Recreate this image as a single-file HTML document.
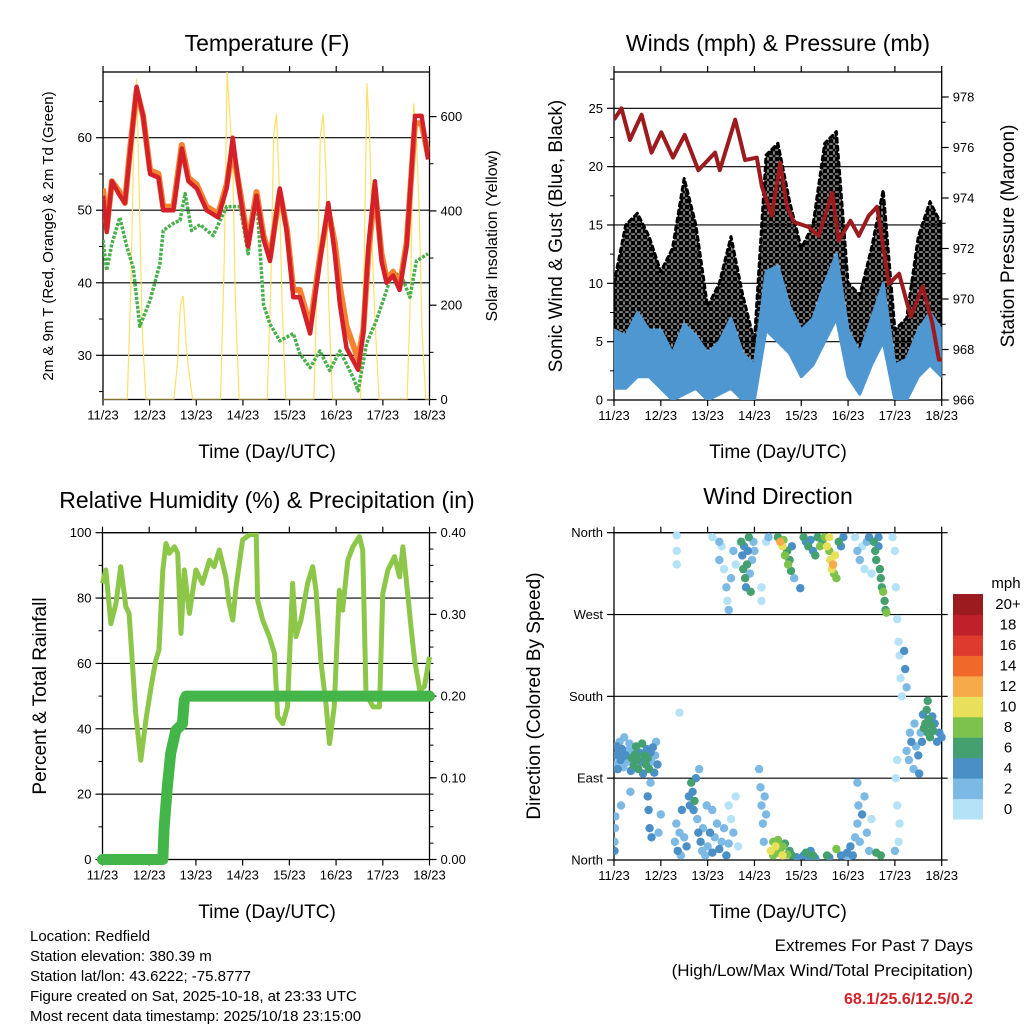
<!DOCTYPE html>
<html><head><meta charset="utf-8"><title>Redfield Station Meteogram</title>
<style>
html,body{margin:0;padding:0;background:#fff;}
svg{display:block;font-family:"Liberation Sans",Arial,sans-serif;}
.t{font-size:23px;fill:#000;text-anchor:middle;}
.al{font-size:19px;fill:#000;text-anchor:middle;}
.tk{font-size:13px;fill:#000;}
.info{font-size:15px;fill:#000;}
</style></head>
<body>
<svg id="chart" width="1024" height="1024" viewBox="0 0 1024 1024" xmlns="http://www.w3.org/2000/svg">
<defs>
<pattern id="dotpat" width="6" height="6" patternUnits="userSpaceOnUse">
<circle cx="3" cy="3" r="2.6" fill="#000"/>
<circle cx="0" cy="0" r="1.6" fill="#000"/>
<circle cx="6" cy="6" r="1.6" fill="#000"/>
<circle cx="0" cy="6" r="1.6" fill="#000"/>
<circle cx="6" cy="0" r="1.6" fill="#000"/>
</pattern>
</defs>
<rect width="1024" height="1024" fill="#fff"/>
<text class="t" x="267" y="51">Temperature (F)</text>
<text class="t" x="778" y="51">Winds (mph) &amp; Pressure (mb)</text>
<text class="t" x="267" y="508">Relative Humidity (%) &amp; Precipitation (in)</text>
<text class="t" x="778" y="504">Wind Direction</text>

<text class="al" x="267" y="458">Time (Day/UTC)</text>
<text class="al" x="778" y="458">Time (Day/UTC)</text>
<text class="al" x="267" y="918">Time (Day/UTC)</text>
<text class="al" x="778" y="918">Time (Day/UTC)</text>

<text class="al" style="font-size:15px" transform="translate(53,236) rotate(-90)">2m &amp; 9m T (Red, Orange) &amp; 2m Td (Green)</text>
<text class="al" style="font-size:16px" transform="translate(497,236) rotate(-90)">Solar Insolation (Yellow)</text>
<text class="al" transform="translate(562,236) rotate(-90)">Sonic Wind &amp; Gust (Blue, Black)</text>
<text class="al" transform="translate(1014,236) rotate(-90)">Station Pressure (Maroon)</text>
<text class="al" transform="translate(46,696) rotate(-90)">Percent &amp; Total Rainfall</text>
<text class="al" transform="translate(540,696) rotate(-90)">Direction (Colored By Speed)</text>

<g>
<text class="info" x="30" y="941">Location: Redfield</text>
<text class="info" x="30" y="961">Station elevation: 380.39 m</text>
<text class="info" x="30" y="981">Station lat/lon: 43.6222; -75.8777</text>
<text class="info" x="30" y="1001">Figure created on Sat, 2025-10-18, at 23:33 UTC</text>
<text class="info" x="30" y="1021">Most recent data timestamp: 2025/10/18 23:15:00</text>
</g>
<g>
<text x="973" y="951" style="font-size:17px;text-anchor:end">Extremes For Past 7 Days</text>
<text x="973" y="976" style="font-size:17px;text-anchor:end">(High/Low/Max Wind/Total Precipitation)</text>
<text x="973" y="1004" style="font-size:16px;font-weight:bold;fill:#d0232a;text-anchor:end">68.1/25.6/12.5/0.2</text>
</g>
<text x="1006" y="588" style="font-size:15px;text-anchor:middle">mph</text>
</svg>
<script>
// ---------- data ----------
const dayLabels = ["11/23","12/23","13/23","14/23","15/23","16/23","17/23","18/23"];
const tempT = [0,0.08,0.19,0.36,0.47,0.58,0.72,0.86,1.01,1.19,1.29,1.51,1.69,1.83,2.01,2.22,2.47,2.65,2.78,2.94,3.11,3.29,3.44,3.58,3.79,3.94,4.08,4.22,4.44,4.65,4.83,4.97,5.08,5.22,5.47,5.58,5.69,5.83,5.97,6.08,6.22,6.36,6.51,6.69,6.83,6.97];
const tempRed = [52,47,54,52,51,58,67,63,55,54.5,50,50,58.5,54,53,50,49,53,60,52,45,52,46,43,53,47,38,38,33,43,51,44,37,31,28,33,45,54,43,40,41,39,45,63,63,57];
const tempOrange = [53,47.5,54,52.5,51,58.5,66.5,63,55.5,55,50.5,50.5,59,54.5,53.5,50.5,49.5,53.5,58.5,52.5,45.5,52.5,46.5,43.5,52.5,47.5,39,39,34,43.5,50,45.5,39.5,34,29.5,33.5,44,53,44,40.5,41.5,39.5,45.5,62,62,57.5];
const dewT = [0,0.08,0.19,0.36,0.51,0.65,0.79,1.01,1.22,1.29,1.51,1.65,1.76,1.9,2.08,2.36,2.65,2.94,3.11,3.29,3.44,3.58,3.79,4.08,4.22,4.44,4.65,4.86,5.08,5.36,5.47,5.65,5.86,6.01,6.22,6.44,6.58,6.72,6.97];
const dewVals = [45.9,41.7,45.4,49,45,42,34,37.6,42.6,47.2,48.2,48.6,52.3,47.2,48,46.5,50.5,50.5,44,52.3,37,34.3,32,33,30.2,28.3,30.6,27.9,30.6,27,25.1,31.6,34.8,37.6,41.7,40.3,38,43,44];
const solarT = [0,0.52,0.6,0.66,0.72,0.78,0.84,0.92, 1.52,1.6,1.66,1.72,1.78,1.84,1.92, 2.52,2.6,2.66,2.72,2.78,2.84,2.92, 3.52,3.6,3.66,3.72,3.78,3.84,3.92, 4.52,4.6,4.66,4.72,4.78,4.84,4.92, 5.52,5.6,5.66,5.72,5.78,5.84,5.92, 6.52,6.6,6.66,6.72,6.78,6.84,6.92,7];
const solarVals = [0,0,250,550,680,420,150,0, 0,80,200,220,120,60,0, 0,300,695,600,500,200,0, 0,250,560,606,450,200,0, 0,280,560,606,480,200,0, 0,300,671,550,300,150,0, 0,250,628,560,400,150,0,0];
const windT = [0,0.25,0.5,0.75,1,1.25,1.5,1.75,2,2.25,2.5,2.75,3,3.25,3.5,3.75,4,4.25,4.5,4.75,5,5.25,5.5,5.75,6,6.25,6.5,6.75,7];
const windLo = [1,1,2,2,1,0,0.5,1,0,0.5,1,0,0,6,5,4,2,3,5,7,2,0.5,3,5,0,0,2,3,2];
const windHi = [6,5.5,7.5,6,6,4,6.5,5.5,4,5,7,4,3,11,11.5,8,6,7,10,12.5,6,4,7,10,3,3.5,6,7.5,6];
const gustLo = [3,5,5,4,3,3,4,4,1,2,3,2,0.5,10,9,6,3,5,9,11,3,2,4,9,1,1,5,6,5];
const gustHi = [10,15,16,14,11,13,19,15,8,10,14,9,5,21,22,17,13,15,22,23,10,9,13,18,6,7,14,17,15];
const presT = [0,0.16,0.34,0.59,0.8,1.01,1.26,1.51,1.8,2.16,2.26,2.59,2.8,3.05,3.16,3.37,3.55,3.69,3.84,4.16,4.37,4.66,4.8,5.05,5.23,5.44,5.62,5.87,6.09,6.34,6.59,6.8,6.94,7];
const presVals = [977.1,977.55,976.3,977.3,975.8,976.6,975.6,976.5,975.1,975.8,975.1,977.1,975.5,975.6,974.45,973.3,975.4,973.7,973.05,972.85,972.5,974.2,972.3,973.1,972.5,973.3,973.65,970.6,971.0,969.3,970.5,969.05,967.6,967.6];
const rhT = [0,0.07,0.18,0.29,0.39,0.5,0.57,0.64,0.71,0.82,0.93,1.04,1.14,1.21,1.29,1.36,1.43,1.54,1.61,1.68,1.75,1.86,2.0,2.14,2.29,2.39,2.5,2.64,2.71,2.79,2.86,3.0,3.14,3.29,3.32,3.43,3.57,3.68,3.75,3.86,3.96,4.07,4.14,4.25,4.39,4.5,4.57,4.68,4.79,4.86,4.96,5.07,5.14,5.25,5.36,5.5,5.57,5.64,5.79,5.93,6.0,6.11,6.25,6.36,6.43,6.54,6.61,6.68,6.79,6.89,7.0];
const rhVals = [84.5,88.6,72.2,78.4,89.6,77.3,75.3,60,44.7,30.4,42.7,52.9,61,64.1,88.6,96.7,93.7,95.7,93.7,69.2,88.6,75.3,88.6,84.5,91.6,89.6,94.7,86.5,78.4,73.3,83.5,97.8,99.3,99.8,79.4,73.3,68.2,63.1,43.7,41.6,46.7,84.5,68.2,73.3,84.5,89.6,82.4,60,46.7,35.5,46.7,82.4,76.3,91.6,95.7,98.8,94.7,50.8,46.7,46.7,81.4,88.6,92.7,86.5,95.7,80.4,70.2,61,51.8,52.9,62];
const precipT = [0,1.29,1.32,1.39,1.46,1.57,1.71,1.75,1.79,7.0];
const precipVals = [0,0,0.04,0.09,0.13,0.158,0.166,0.195,0.2,0.2];
const dirT = [0.02,0.04,0.06,0.08,0.1,0.12,0.14,0.17,0.2,0.22,0.25,0.28,0.3,0.33,0.36,0.38,0.4,0.42,0.45,0.47,0.5,0.52,0.55,0.58,0.6,0.62,0.65,0.68,0.7,0.72,0.75,0.78,0.8,0.83,0.86,0.88,0.9,0.93,
 0.01,0.02,0.03,0.01,0.15,0.35,0.72,0.74,0.76,0.78,0.8,0.95,1.0,
 1.3,1.33,1.36,1.4,1.43,1.45,1.5,1.55,1.6,1.62,1.65,1.68,1.7,1.72,1.75,1.78,1.8,1.82,1.85,1.88,1.9,1.95,1.4,
 2.0,2.05,2.1,2.15,2.2,2.25,2.3,2.35,2.4,2.45,1.98,2.1,
 2.45,2.5,2.55,2.6,2.65,
 2.1,2.25,2.25,2.3,2.35,2.4,2.42,2.45,2.5,2.55,2.6,2.7,1.34,1.34,1.34,
 2.72,2.74,2.76,2.78,2.8,2.82,2.84,2.86,2.88,2.9,2.92,2.95,2.98,3.0,
 3.1,3.13,3.15,3.18,3.2,3.22,3.25,3.15,3.15,3.25,3.3,
 3.35,3.4,3.45,3.5,3.55,3.6,3.65,3.7,3.75,3.4,3.5,3.6,3.8,3.9,
 3.5,3.55,3.6,3.62,3.65,3.7,3.72,3.75,3.78,3.8,3.85,
 4.05,4.1,4.15,4.2,4.25,4.3,4.05,4.1,4.15,4.2,4.25,4.3,4.35,4.4,4.45,3.98,
 4.5,4.55,4.6,4.62,4.65,4.68,4.7,4.72,4.75,4.8,4.85,4.9,4.6,4.55,4.6,4.75,4.85,
 4.98,5.0,5.05,5.1,5.15,5.2,5.22,5.25,5.3,5.35,5.4,5.45,5.5,5.2,
 5.15,5.2,5.25,5.3,5.35,5.4,5.45,5.5,
 5.55,5.58,5.6,5.65,5.68,5.7,5.72,5.75,5.78,5.8,5.82,5.65,5.6,5.7,
 5.95,6.0,6.02,6.05,6.08,6.1,6.12,6.15,6.05,6.1,6.08,6.0,6.02,6.05,6.2,6.22,6.25,
 6.25,6.3,6.32,6.35,6.4,6.42,6.45,6.5,6.52,6.55,6.58,6.6,6.62,6.65,6.68,6.7,6.72,6.75,6.78,6.8,6.82,6.85,6.9,6.95,7.0,6.7];
const dirDeg = [115,105,125,100,118,130,110,122,102,135,115,108,120,128,98,112,120,104,116,125,110,100,118,108,128,95,115,105,122,112,100,118,108,124,96,115,130,105,
 20,35,48,10,60,75,70,55,35,85,25,30,50,
 20,40,10,30,5,55,25,15,70,60,85,75,55,65,90,45,30,100,20,10,35,5,162,
 15,30,8,25,40,12,20,35,5,18,60,55,
 60,45,30,70,15,
 355,350,330,345,320,300,285,275,310,340,325,350,357,340,325,
 350,335,320,345,310,300,325,340,355,315,295,330,350,340,
 100,80,60,40,20,70,50,300,285,350,355,
 10,5,15,8,12,5,18,6,10,20,22,15,5,3,
 355,350,345,352,335,340,325,330,318,345,310,
 5,8,3,10,5,2,355,350,345,352,340,335,355,345,350,299,
 355,345,340,330,320,325,315,335,310,350,345,355,355,5,3,12,5,
 8,3,15,5,25,40,60,20,50,70,30,10,45,85,
 355,340,330,345,320,350,355,315,
 350,340,330,345,320,310,300,295,285,275,272,355,8,5,
 355,340,300,265,240,225,200,180,60,40,20,10,90,110,230,210,190,
 120,110,140,130,100,150,125,115,95,140,130,160,145,150,165,140,155,135,148,158,142,150,130,140,135,175];
const dirSpd = [4,3,4,4,5,3,4,4,3,2,4,3,2,3,4,6,3,6,7,6,6,7,5,4,6,4,6,7,4,6,6,4,3,4,5,3,2,4,
 2,3,2,4,2,3,4,4,5,3,4,2,3,
 2,3,4,3,2,4,3,4,4,5,6,4,5,6,4,3,4,2,4,3,2,3,1,
 3,4,4,3,2,4,3,2,4,3,3,2,
 1,1,2,1,1,
 1,2,2,1,1,2,1,2,2,2,1,1,1,1,1,
 6,4,6,4,6,4,6,4,6,3,6,3,2,2,
 2,2,3,2,2,2,2,1,1,1,2,
 10,8,10,9,8,10,7,8,6,9,8,9,6,4,
 7,12,10,8,9,7,8,6,7,4,3,
 4,6,5,4,6,4,6,4,6,4,4,6,6,8,6,4,
 8,10,8,10,10,12,9,10,8,6,4,4,10,6,4,8,4,
 4,3,4,4,3,2,3,2,4,2,3,2,1,2,
 1,2,2,1,1,2,4,1,
 6,7,6,4,6,7,6,8,7,7,8,4,7,6,
 1,1,1,1,1,1,1,1,1,1,1,2,1,1,4,4,3,
 2,3,2,4,3,2,3,4,4,3,4,4,6,6,6,6,7,6,6,5,6,5,4,4,4,6];
const speedBinLabels = ["0","2","4","6","8","10","12","14","16","18","20+"];
const speedColors = ["#b5e2f7","#7cb9e4","#4a8fc6","#44a06e","#7cc24c","#e8e05a","#f7aa48","#f0682a","#de3a2e","#c0202a","#9b1b1e"];

// ---------- helpers ----------
const NS = "http://www.w3.org/2000/svg";
const svg = document.getElementById("chart");
function mk(tag, attrs, parent){
  const e = document.createElementNS(NS, tag);
  for (const k in attrs) e.setAttribute(k, attrs[k]);
  (parent || svg).appendChild(e);
  return e;
}
function lin(d0,d1,r0,r1){ return v => r0 + (v-d0)/(d1-d0)*(r1-r0); }
function pathOf(ts, vs, sx, sy){
  let s = "";
  const n = Math.min(ts.length, vs.length);
  for (let i=0;i<n;i++) s += (i?"L":"M") + sx(ts[i]).toFixed(1) + "," + sy(vs[i]).toFixed(1);
  return s;
}
function frame(prefix, x0,x1,y0,y1, sx){
  const g = mk("g", {});
  
  
  const box = mk("rect", {x:x0,y:y0,width:x1-x0,height:y1-y0,fill:"none",stroke:"#000","stroke-width":1.3}, g);
  
  
  for (let i=0;i<dayLabels.length;i++){
    const x = sx(i);
    mk("line",{x1:x,x2:x,y1:y1,y2:y1+6,stroke:"#000","stroke-width":1.2},g);
    mk("line",{x1:x,x2:x,y1:y0,y2:y0-6,stroke:"#000","stroke-width":1.2},g);
    const t = mk("text",{x:x,y:y1+20,"text-anchor":"middle","class":"tk"},g);
    t.textContent = dayLabels[i];
    
    
  }
  return g;
}
function yAxis(prefix, side, x0,x1, sy, majors, labels, minors, grid){
  const g = mk("g", {});
  
  
  const xe = side === "left" ? x0 : x1;
  const dir = side === "left" ? -1 : 1;
  minors.forEach(v => mk("line",{x1:xe,x2:xe+dir*4,y1:sy(v),y2:sy(v),stroke:"#000","stroke-width":1},g));
  majors.forEach((v,i) => {
    const y = sy(v);
    mk("line",{x1:xe,x2:xe+dir*7,y1:y,y2:y,stroke:"#000","stroke-width":1.2},g);
    if (grid) {
      const gl = mk("line",{x1:x0,x2:x1,y1:y,y2:y,stroke:"#000","stroke-width":1.1},g);
      
      
    }
    const t = mk("text",{x:xe+dir*11,y:y+4.5,"text-anchor":side==="left"?"end":"start","class":"tk"},g);
    t.textContent = labels[i];
    
    
  });
}
function range(a,b,s){ const r=[]; for(let v=a; v<=b+1e-9; v+=s) r.push(+v.toFixed(4)); return r; }

// ---------- Panel 1: temperature ----------
(function(){
  const x0=103,x1=429.5,y0=72,y1=399.5;
  const sx = lin(0,7,x0,x1);
  const sy = lin(30,60,355.3,137.7);
  const ss = lin(0,600,399.5,116.6);
  frame("temperature", x0,x1,y0,y1, sx);
  yAxis("temperature","left",x0,x1,sy,[30,40,50,60],["30","40","50","60"],[25,35,45,55,65],true);
  yAxis("solar","right",x0,x1,ss,[0,200,400,600],["0","200","400","600"],[100,300,500],false);
  const clip = mk("clipPath",{id:"c1"}); mk("rect",{x:x0,y:y0,width:x1-x0,height:y1-y0},clip);
  const g = mk("g",{"clip-path":"url(#c1)"});
  
  
  const sol = mk("path",{d:pathOf(solarT,solarVals,sx,ss),fill:"none",stroke:"#ffe066","stroke-width":1.2},g);
  
  
  const dew = mk("path",{d:pathOf(dewT,dewVals,sx,sy),fill:"none",stroke:"#47b04a","stroke-width":3.5,"stroke-dasharray":"3 1.5","stroke-linejoin":"round"},g);
  
  
  const or = mk("path",{d:pathOf(tempT,tempOrange,sx,sy),fill:"none",stroke:"#f58231","stroke-width":6,"stroke-linejoin":"round"},g);
  
  
  const rd = mk("path",{d:pathOf(tempT,tempRed,sx,sy),fill:"none",stroke:"#d42028","stroke-width":4.5,"stroke-linejoin":"round"},g);
  
  
})();

// ---------- Panel 2: winds & pressure ----------
(function(){
  const x0=614,x1=941.7,y0=72,y1=400;
  const sx = lin(0,7,x0,x1);
  const sy = lin(0,25,400,108.3);
  const sp = lin(966,978,400,97);
  frame("winds", x0,x1,y0,y1, sx);
  yAxis("wind","left",x0,x1,sy,[0,5,10,15,20,25],["0","5","10","15","20","25"],[2.5,7.5,12.5,17.5,22.5,27.5],true);
  yAxis("pressure","right",x0,x1,sp,[966,968,970,972,974,976,978],["966","968","970","972","974","976","978"],range(967,977,2),false);
  const clip = mk("clipPath",{id:"c2"}); mk("rect",{x:x0,y:y0,width:x1-x0,height:y1-y0},clip);
  const g = mk("g",{"clip-path":"url(#c2)"});
  
  
  function band(lo,hi){
    let s = pathOf(windT,hi,sx,sy);
    for (let i=windT.length-1;i>=0;i--) s += "L"+sx(windT[i]).toFixed(1)+","+sy(lo[i]).toFixed(1);
    return s+"Z";
  }
  const gb = mk("path",{d:band(gustLo,gustHi),fill:"url(#dotpat)",stroke:"#000","stroke-width":3,"stroke-dasharray":"4 4","stroke-linecap":"round","stroke-linejoin":"round"},g);
  
  
  const wb = mk("path",{d:band(windLo,windHi),fill:"#4f97d0",stroke:"#4f97d0","stroke-width":3,"stroke-linejoin":"round"},g);
  
  
  const pr = mk("path",{d:pathOf(presT,presVals,sx,sp),fill:"none",stroke:"#9b1b1e","stroke-width":4,"stroke-linejoin":"round"},g);
  
  
})();

// ---------- Panel 3: RH & precip ----------
(function(){
  const x0=102.5,x1=429.5,y0=532.7,y1=859.5;
  const sx = lin(0,7,x0,x1);
  const sy = lin(0,100,859.5,532.7);
  const sr = lin(0,0.4,859.5,532.7);
  frame("humidity", x0,x1,y0,y1, sx);
  yAxis("humidity","left",x0,x1,sy,[0,20,40,60,80,100],["0","20","40","60","80","100"],[10,30,50,70,90],true);
  yAxis("precip","right",x0,x1,sr,[0,0.1,0.2,0.3,0.4],["0.00","0.10","0.20","0.30","0.40"],range(0.02,0.38,0.02),false);
  const clip = mk("clipPath",{id:"c3"}); mk("rect",{x:x0-8,y:y0,width:x1-x0+16,height:y1-y0+8},clip);
  const g = mk("g",{"clip-path":"url(#c3)"});
  
  
  const rh = mk("path",{d:pathOf(rhT,rhVals,sx,sy),fill:"none",stroke:"#8dc74a","stroke-width":5,"stroke-linejoin":"round"},g);
  
  
  const pc = mk("path",{d:pathOf(precipT,precipVals,sx,sr),fill:"none",stroke:"#44b549","stroke-width":11,"stroke-linejoin":"round","stroke-linecap":"round"},g);
  
  
})();

// ---------- Panel 4: wind direction ----------
(function(){
  const x0=614,x1=941.7,y0=532.7,y1=860;
  const sx = lin(0,7,x0,x1);
  const sy = lin(0,360,860,532.7);
  frame("direction", x0,x1,y0,y1, sx);
  yAxis("direction","left",x0,x1,sy,[0,90,180,270,360],["North","East","South","West","North"],[],true);
  const rg = mk("g",{});
  [0,90,180,270,360].forEach(v=>mk("line",{x1:x1,x2:x1+6,y1:sy(v),y2:sy(v),stroke:"#000","stroke-width":1.2},rg));
  const clip = mk("clipPath",{id:"c4"}); mk("rect",{x:x0,y:y0-4,width:x1-x0+4,height:y1-y0+4},clip);
  const g = mk("g",{"clip-path":"url(#c4)"});
  
  
  const n = Math.min(dirT.length, dirDeg.length, dirSpd.length);
  const order = [];
  for (let i=0;i<n;i++) order.push(i);
  order.sort((a,b)=>dirSpd[a]-dirSpd[b]);
  order.forEach(i=>{
    const bin = Math.min(10, Math.floor(dirSpd[i]/2));
    const c = mk("circle",{cx:sx(dirT[i]).toFixed(1),cy:sy(dirDeg[i]).toFixed(1),r:4.2,fill:speedColors[bin]},g);
    
    
  });
  // colorbar
  const cb = mk("g",{});
  
  
  const top=594, bot=819, h=(bot-top)/speedColors.length;
  for (let i=0;i<speedColors.length;i++){
    const y = bot - (i+1)*h;
    const r = mk("rect",{x:953,y:y.toFixed(1),width:30,height:(h+0.5).toFixed(1),fill:speedColors[i]},cb);
    
    
    const t = mk("text",{x:1008,y:(y+h/2+5).toFixed(1),"text-anchor":"middle",style:"font-size:15px"},cb);
    t.textContent = speedBinLabels[i];
    
    
  }
})();
</script>
</body></html>
